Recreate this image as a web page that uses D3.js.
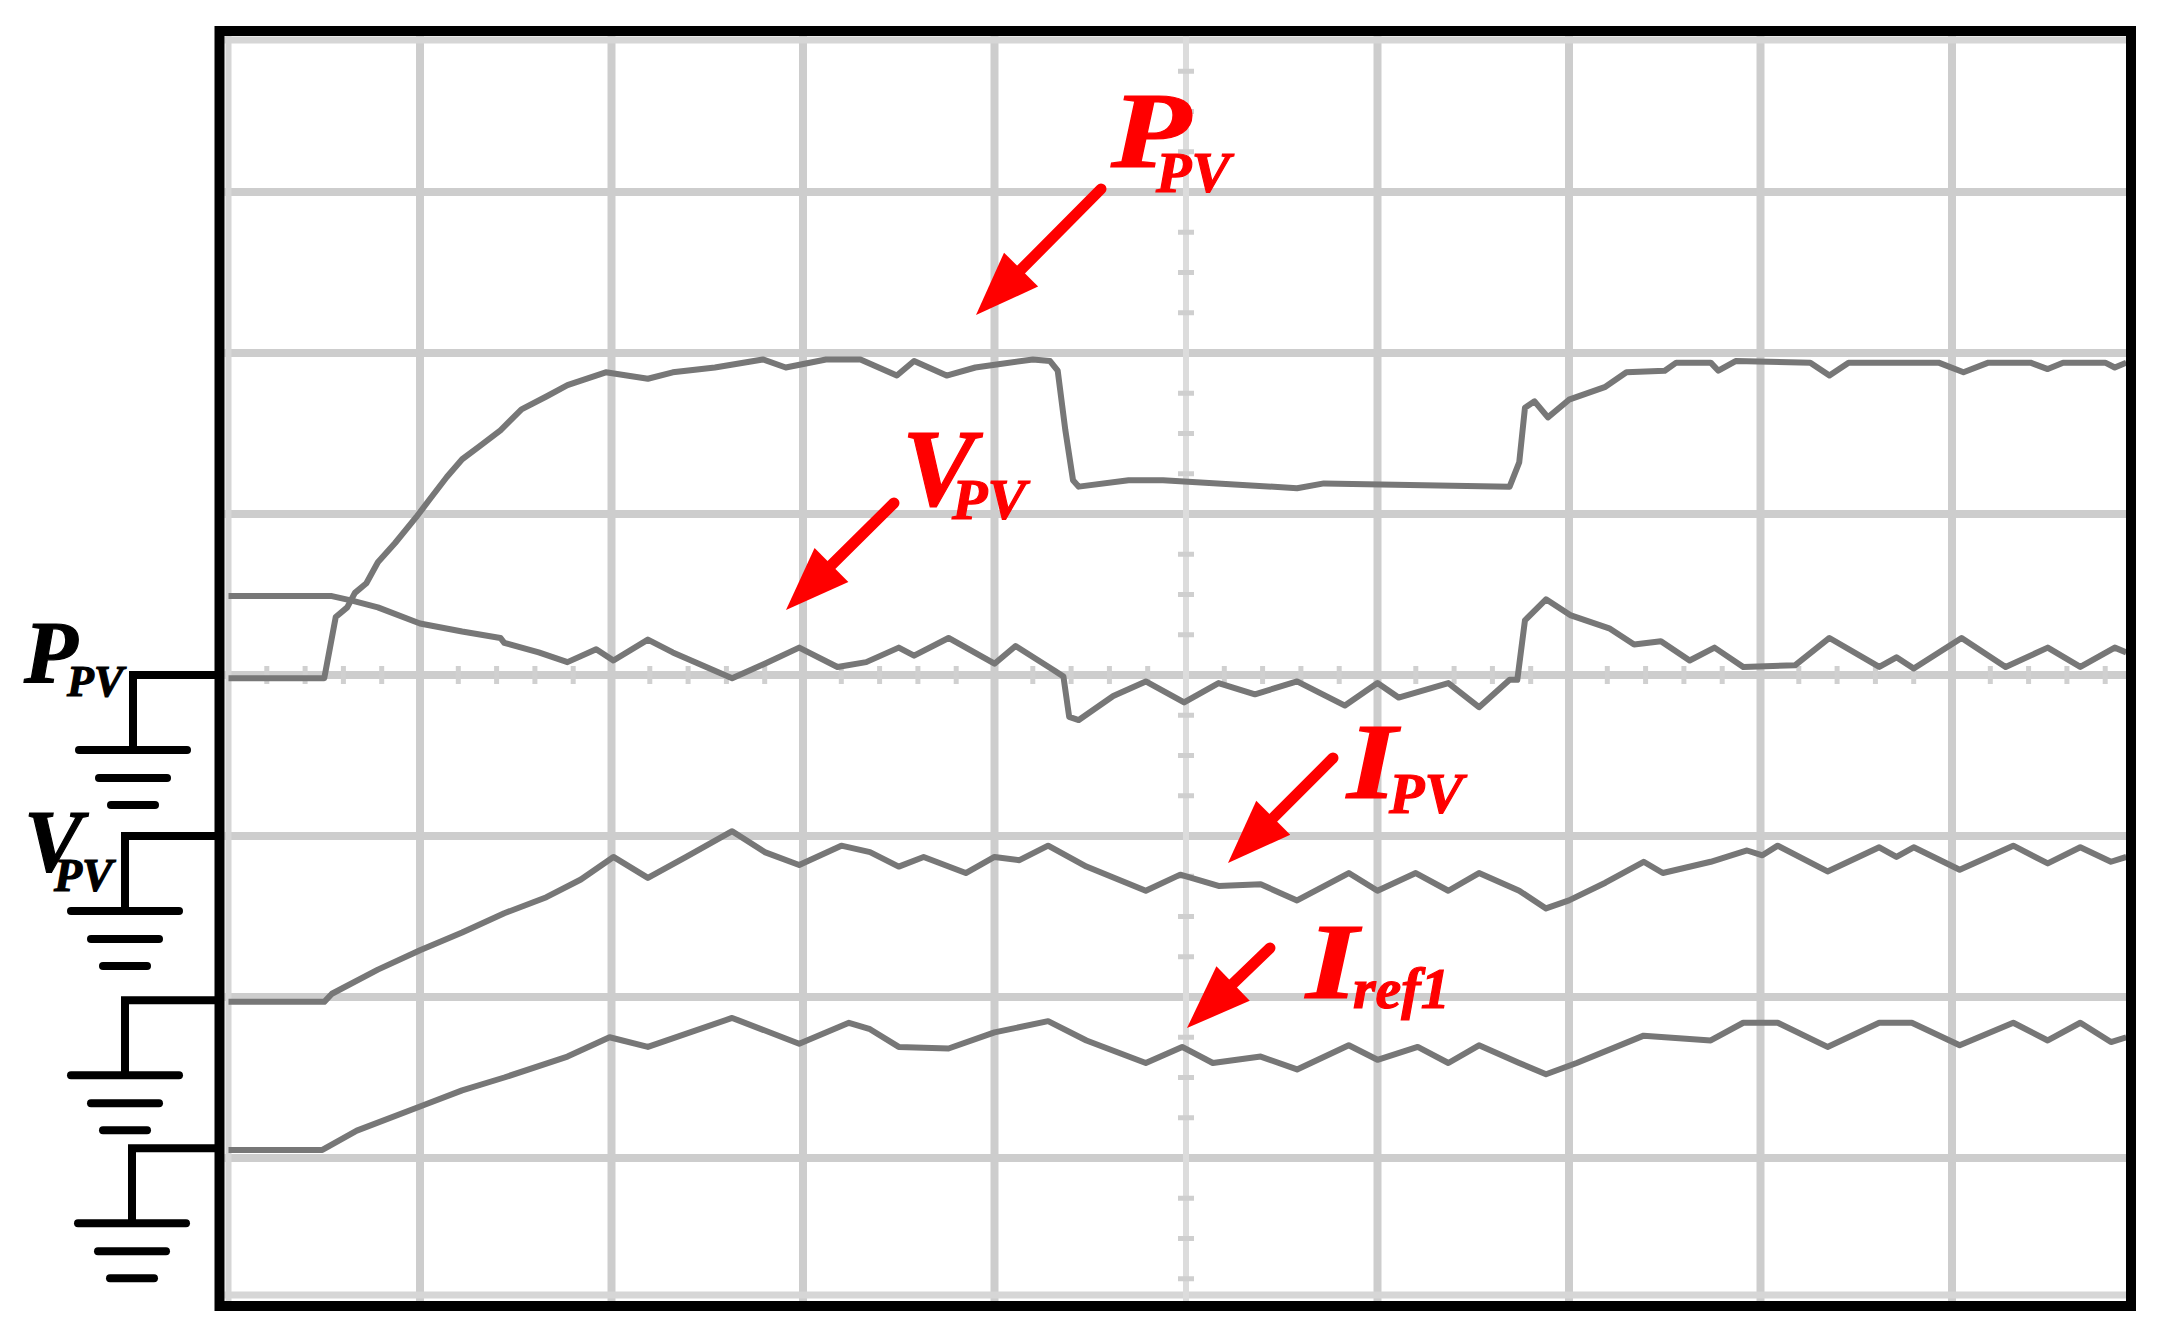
<!DOCTYPE html>
<html>
<head>
<meta charset="utf-8">
<script src="https://cdn.jsdelivr.net/npm/d3@7/dist/d3.min.js"></script>
<style>
  body { margin: 0; background: #fff; }
  svg { display: block; }
</style>
</head>
<body>
<div id="scope"></div>
<script>
var svgWidth = 2167;
var svgHeight = 1336;

// Scope traces, read in screen divisions: x = 0..10 across, y = 0 on the centre line
var pPV = [[0.00,-0.02],[0.50,-0.02],[0.53,0.17],[0.56,0.36],[0.62,0.42],[0.66,0.51],[0.72,0.57],[0.78,0.70],
  [0.87,0.82],[0.98,0.98],[1.05,1.09],[1.14,1.23],[1.22,1.34],[1.31,1.42],[1.42,1.52],[1.53,1.65],[1.66,1.73],
  [1.77,1.80],[1.97,1.88],[2.19,1.84],[2.32,1.88],[2.54,1.91],[2.79,1.96],[2.91,1.91],[3.12,1.96],[3.30,1.96],
  [3.49,1.86],[3.58,1.95],[3.75,1.86],[3.90,1.91],[4.02,1.93],[4.20,1.96],[4.29,1.95],[4.33,1.89],[4.37,1.52],
  [4.41,1.21],[4.44,1.17],[4.70,1.21],[4.88,1.21],[5.58,1.16],[5.72,1.19],[6.69,1.17],[6.74,1.32],[6.77,1.66],
  [6.82,1.70],[6.89,1.60],[7.00,1.71],[7.19,1.79],[7.30,1.88],[7.50,1.89],[7.56,1.94],[7.74,1.94],[7.78,1.89],
  [7.87,1.95],[8.26,1.94],[8.36,1.86],[8.46,1.94],[8.93,1.94],[9.06,1.88],[9.19,1.94],[9.41,1.94],[9.50,1.90],
  [9.58,1.94],[9.80,1.94],[9.85,1.91],[9.91,1.94]];

var vPV = [[0.00,0.49],[0.54,0.49],[0.65,0.46],[0.78,0.42],[1.00,0.32],[1.22,0.27],[1.42,0.23],[1.44,0.20],
  [1.62,0.14],[1.77,0.08],[1.92,0.16],[2.01,0.09],[2.19,0.22],[2.32,0.14],[2.63,-0.02],[2.80,0.07],[2.98,0.17],
  [3.18,0.05],[3.33,0.08],[3.50,0.17],[3.58,0.12],[3.76,0.23],[4.00,0.07],[4.11,0.18],[4.31,0.03],[4.36,-0.01],
  [4.39,-0.26],[4.44,-0.28],[4.62,-0.13],[4.79,-0.04],[4.99,-0.17],[5.17,-0.05],[5.36,-0.12],[5.58,-0.04],
  [5.83,-0.19],[6.00,-0.05],[6.11,-0.14],[6.37,-0.05],[6.53,-0.20],[6.69,-0.03],[6.73,-0.03],[6.77,0.34],
  [6.88,0.47],[7.01,0.37],[7.21,0.29],[7.34,0.19],[7.48,0.21],[7.63,0.09],[7.76,0.17],[7.91,0.05],[8.18,0.06],
  [8.36,0.23],[8.62,0.05],[8.71,0.11],[8.80,0.04],[9.05,0.23],[9.28,0.05],[9.50,0.17],[9.67,0.05],[9.85,0.17],
  [9.91,0.14]];

var iPV = [[0.00,-2.03],[0.50,-2.03],[0.54,-1.98],[0.78,-1.83],[1.00,-1.71],[1.22,-1.60],[1.44,-1.48],
  [1.66,-1.38],[1.84,-1.27],[2.01,-1.13],[2.19,-1.26],[2.39,-1.13],[2.63,-0.97],[2.80,-1.10],[2.98,-1.18],
  [3.20,-1.06],[3.35,-1.10],[3.50,-1.19],[3.63,-1.13],[3.85,-1.23],[4.00,-1.13],[4.13,-1.15],[4.28,-1.06],
  [4.48,-1.19],[4.79,-1.34],[4.97,-1.24],[5.17,-1.31],[5.39,-1.30],[5.58,-1.40],[5.85,-1.23],[6.00,-1.34],
  [6.20,-1.23],[6.37,-1.34],[6.53,-1.23],[6.74,-1.34],[6.88,-1.45],[7.00,-1.40],[7.19,-1.29],[7.39,-1.16],
  [7.49,-1.23],[7.74,-1.16],[7.93,-1.09],[8.01,-1.12],[8.09,-1.06],[8.35,-1.22],[8.62,-1.07],[8.71,-1.13],
  [8.80,-1.07],[9.04,-1.21],[9.32,-1.06],[9.50,-1.17],[9.67,-1.07],[9.83,-1.16],[9.91,-1.13]];

var iRef = [[0.00,-2.95],[0.49,-2.95],[0.67,-2.83],[1.00,-2.68],[1.22,-2.58],[1.44,-2.50],[1.77,-2.37],
  [1.99,-2.25],[2.19,-2.31],[2.63,-2.13],[2.98,-2.29],[3.24,-2.16],[3.35,-2.20],[3.50,-2.31],[3.76,-2.32],
  [4.00,-2.22],[4.28,-2.15],[4.48,-2.27],[4.79,-2.41],[4.98,-2.31],[5.14,-2.41],[5.39,-2.37],[5.58,-2.45],
  [5.85,-2.30],[6.00,-2.39],[6.21,-2.31],[6.37,-2.41],[6.53,-2.30],[6.74,-2.41],[6.88,-2.48],[7.04,-2.41],
  [7.39,-2.24],[7.74,-2.27],[7.91,-2.16],[8.09,-2.16],[8.35,-2.31],[8.62,-2.16],[8.79,-2.16],[9.04,-2.30],
  [9.32,-2.16],[9.50,-2.27],[9.67,-2.16],[9.83,-2.28],[9.91,-2.25]];

// ground reference level of each channel (divisions)
var groundLevels = [0.0, -1.0, -2.02, -2.94];

var xGrid = d3.range(1, 10);
var yGrid = d3.range(-3, 4);

var svg = d3.select("#scope")
  .append("svg")
  .attr("width", svgWidth)
  .attr("height", svgHeight);

svg.append("rect").attr("width", svgWidth).attr("height", svgHeight).attr("fill", "#fff");

var xScale = d3.scaleLinear().domain([0, 10]).range([228.5, 2143.5]);
var yScale = d3.scaleLinear().domain([-4, 4]).range([1319, 31]);

var frame = { left: 219.5, right: 2131, top: 31, bottom: 1306 };

svg.append("clipPath").attr("id", "screen")
  .append("rect")
  .attr("x", frame.left + 5).attr("y", frame.top + 5)
  .attr("width", frame.right - frame.left - 10)
  .attr("height", frame.bottom - frame.top - 10);

var screen = svg.append("g").attr("clip-path", "url(#screen)");

// graticule
var gridColor = "#cdcdcd";
screen.selectAll(".vgrid")
  .data(xGrid.filter(d => d !== 5))
  .enter().append("line")
  .attr("x1", d => xScale(d)).attr("x2", d => xScale(d))
  .attr("y1", frame.top).attr("y2", frame.bottom)
  .attr("stroke", gridColor).attr("stroke-width", 8);

screen.selectAll(".hgrid")
  .data(yGrid)
  .enter().append("line")
  .attr("x1", frame.left).attr("x2", frame.right)
  .attr("y1", d => yScale(d)).attr("y2", d => yScale(d))
  .attr("stroke", gridColor).attr("stroke-width", 8);

// screen border
screen.append("line").attr("x1", xScale(0)).attr("x2", xScale(0))
  .attr("y1", frame.top).attr("y2", frame.bottom)
  .attr("stroke", "#d6d6d6").attr("stroke-width", 6);
screen.append("line").attr("x1", frame.left).attr("x2", frame.right)
  .attr("y1", 40).attr("y2", 40).attr("stroke", "#d6d6d6").attr("stroke-width", 7);
screen.append("line").attr("x1", frame.left).attr("x2", frame.right)
  .attr("y1", 1295).attr("y2", 1295).attr("stroke", "#d6d6d6").attr("stroke-width", 7);

// centre vertical line (lighter, dotted) and minor ticks on both centre lines
screen.append("line")
  .attr("x1", xScale(5)).attr("x2", xScale(5))
  .attr("y1", frame.top).attr("y2", frame.bottom)
  .attr("stroke", "#dcdcdc").attr("stroke-width", 6);

screen.selectAll(".xtick")
  .data(d3.range(1, 50).filter(d => d % 5 !== 0).map(d => d / 5))
  .enter().append("line")
  .attr("x1", d => xScale(d)).attr("x2", d => xScale(d))
  .attr("y1", yScale(0) - 9).attr("y2", yScale(0) + 9)
  .attr("stroke", "#d0d0d0").attr("stroke-width", 5);

screen.selectAll(".ytick")
  .data(d3.range(-15, 16).filter(d => d % 4 !== 0).map(d => d / 4))
  .enter().append("line")
  .attr("x1", xScale(5) - 8).attr("x2", xScale(5) + 8)
  .attr("y1", d => yScale(d)).attr("y2", d => yScale(d))
  .attr("stroke", "#cfcfcf").attr("stroke-width", 5);

// traces
var line = d3.line()
  .x(d => xScale(d[0]))
  .y(d => yScale(d[1]));

screen.selectAll(".trace")
  .data([pPV, vPV, iPV, iRef])
  .enter().append("path")
  .attr("d", line)
  .attr("fill", "none")
  .attr("stroke", "#777")
  .attr("stroke-width", 6)
  .attr("stroke-linejoin", "round");

// frame
svg.append("rect")
  .attr("x", frame.left).attr("y", frame.top)
  .attr("width", frame.right - frame.left)
  .attr("height", frame.bottom - frame.top)
  .attr("fill", "none").attr("stroke", "#000").attr("stroke-width", 10);

// ground markers on the left
var stemX = [133, 125, 125, 132];
var markers = svg.append("g")
  .attr("stroke", "#000").attr("stroke-width", 8)
  .attr("stroke-linecap", "round").attr("fill", "none");

groundLevels.forEach(function (g, i) {
  var y0 = yScale(g);
  var sx = stemX[i];
  markers.append("path")
    .attr("stroke-linecap", "butt")
    .attr("d", `M${frame.left + 4},${y0}H${sx}V${y0 + 75}`);
  [[75, 54], [103, 34], [130, 22]].forEach(function (b) {
    markers.append("line")
      .attr("x1", sx - b[1]).attr("x2", sx + b[1])
      .attr("y1", y0 + b[0]).attr("y2", y0 + b[0]);
  });
});

var serif = "'Liberation Serif', 'Times New Roman', serif";

// one text per name: big letter plus a tucked-in subscript
function label(o, color) {
  var t = svg.append("text")
    .attr("font-family", serif)
    .attr("font-weight", "bold").attr("font-style", "italic")
    .attr("fill", color)
    .attr("stroke", color).attr("stroke-width", 1.2);
  var main = t.append("tspan")
    .attr("x", o.x).attr("y", o.y)
    .attr("font-size", o.size)
    .text(o.main);
  if (o.len) main.attr("textLength", o.len).attr("lengthAdjust", "spacingAndGlyphs");
  t.append("tspan")
    .attr("x", o.sx).attr("y", o.sy)
    .attr("font-size", o.ssize)
    .text(o.sub);
}

// left channel names
label({ x: 24, y: yScale(groundLevels[0]) + 7, size: 88, main: "P",
        sx: 67, sy: yScale(groundLevels[0]) + 21, ssize: 44, sub: "PV" }, "#000");
label({ x: 24, y: yScale(groundLevels[1]) + 35, size: 88, main: "V",
        sx: 54, sy: yScale(groundLevels[1]) + 55, ssize: 46, sub: "PV" }, "#000");

// red annotations: arrows and names
var red = "#ff0000";

function arrow(tail, tip) {
  var dx = tip[0] - tail[0], dy = tip[1] - tail[1];
  var len = Math.sqrt(dx * dx + dy * dy);
  var ux = dx / len, uy = dy / len;
  var headLen = 64, headHalf = 24;
  var bx = tip[0] - ux * headLen, by = tip[1] - uy * headLen;
  svg.append("line")
    .attr("x1", tail[0]).attr("y1", tail[1])
    .attr("x2", bx + ux * 10).attr("y2", by + uy * 10)
    .attr("stroke", red).attr("stroke-width", 11).attr("stroke-linecap", "round");
  svg.append("path")
    .attr("d", `M${tip[0]},${tip[1]}L${bx - uy * headHalf},${by + ux * headHalf}L${bx + uy * headHalf},${by - ux * headHalf}Z`)
    .attr("fill", red);
}

arrow([1101, 189], [976, 315]);
arrow([894, 503], [786, 610]);
arrow([1333, 758], [1228, 863]);
arrow([1270, 948], [1187, 1028]);

label({ x: 1111, y: 167, size: 108, main: "P", len: 80, sx: 1156, sy: 192, ssize: 58, sub: "PV" }, red);
label({ x: 902, y: 505, size: 110, main: "V", sx: 952, sy: 519, ssize: 58, sub: "PV" }, red);
label({ x: 1347, y: 798, size: 108, main: "I", len: 50, sx: 1389, sy: 813, ssize: 58, sub: "PV" }, red);
label({ x: 1306, y: 998, size: 108, main: "I", len: 52, sx: 1353, sy: 1008, ssize: 58, sub: "ref1" }, red);
</script>
</body>
</html>
